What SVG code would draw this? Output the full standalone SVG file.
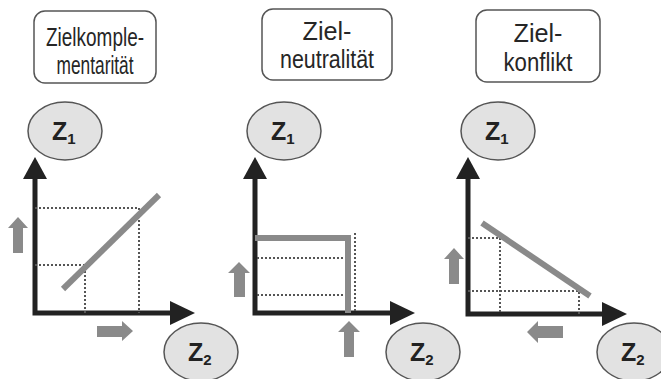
<svg xmlns="http://www.w3.org/2000/svg" width="661" height="379" viewBox="0 0 661 379">
  <style>
    .box { fill: #fff; stroke: #555; stroke-width: 1.5; }
    .title { font-family: "Liberation Sans", Arial, sans-serif; font-size: 25px; fill: #262626; text-anchor: middle; }
    .bubble { fill: #e2e2e2; stroke: #555; stroke-width: 1.5; }
    .zlabel { font-family: "Liberation Sans", Arial, sans-serif; font-weight: bold; font-size: 25px; fill: #222; }
    .zsub { font-size: 15px; }
    .axis { stroke: #222; stroke-width: 5; fill: none; }
    .curve { stroke: #8a8a8a; stroke-width: 6; fill: none; }
    .guide { stroke: #555; stroke-width: 2; stroke-dasharray: 2 2; fill: none; }
    .hint { fill: #8a8a8a; }
    .head { fill: #222; }
  </style>

  <!-- headings (condensed lines) -->
  <g id="heading-complementarity">
    <rect class="box" x="34" y="11" width="122" height="72" rx="11"/>
    <text class="title" x="95" y="46" textLength="98" lengthAdjust="spacingAndGlyphs">Zielkomple-</text>
    <text class="title" x="95" y="74" textLength="77" lengthAdjust="spacingAndGlyphs">mentarität</text>
  </g>
  <g id="heading-neutrality">
    <rect class="box" x="262" y="9" width="130" height="71" rx="11"/>
    <text class="title" x="327" y="40" textLength="49" lengthAdjust="spacingAndGlyphs">Ziel-</text>
    <text class="title" x="327" y="68" textLength="94" lengthAdjust="spacingAndGlyphs">neutralität</text>
  </g>
  <g id="heading-conflict">
    <rect class="box" x="476" y="10" width="124" height="72" rx="11"/>
    <text class="title" x="538" y="42" textLength="49" lengthAdjust="spacingAndGlyphs">Ziel-</text>
    <text class="title" x="538" y="71" textLength="69" lengthAdjust="spacingAndGlyphs">konflikt</text>
  </g>

  <!-- goal bubbles -->
  <g id="z1-a"><ellipse class="bubble" cx="65" cy="131" rx="37" ry="29"/><text class="zlabel" x="52" y="140">Z<tspan class="zsub" dy="4">1</tspan></text></g>
  <g id="z2-a"><ellipse class="bubble" cx="201" cy="352" rx="37" ry="29"/><text class="zlabel" x="188" y="361">Z<tspan class="zsub" dy="4">2</tspan></text></g>
  <g id="z1-b"><ellipse class="bubble" cx="284" cy="131" rx="37" ry="29"/><text class="zlabel" x="271" y="140">Z<tspan class="zsub" dy="4">1</tspan></text></g>
  <g id="z2-b"><ellipse class="bubble" cx="423" cy="352" rx="37" ry="29"/><text class="zlabel" x="410" y="361">Z<tspan class="zsub" dy="4">2</tspan></text></g>
  <g id="z1-c"><ellipse class="bubble" cx="498" cy="131" rx="37" ry="29"/><text class="zlabel" x="485" y="140">Z<tspan class="zsub" dy="4">1</tspan></text></g>
  <g id="z2-c"><ellipse class="bubble" cx="634" cy="352" rx="37" ry="29"/><text class="zlabel" x="621" y="361">Z<tspan class="zsub" dy="4">2</tspan></text></g>

  <g id="connectors">
    <!-- chart 1: complementarity -->
    <polyline class="axis" points="35,175 35,313 172,313"/>
    <polygon class="head" points="35,157 23,179 47,179"/>
    <polygon class="head" points="195,313 170,301 170,325"/>
    <polyline class="guide" points="35,208 139,208 139,313"/>
    <polyline class="guide" points="35,265 85,265 85,313"/>
    <line class="curve" x1="63" y1="289" x2="159" y2="195"/>
    <polygon class="hint" points="18,217 28,228 23,228 23,253 13,253 13,228 8,228"/>
    <polygon class="hint" points="133,331 122,321 122,326 97,326 97,337 122,337 122,341"/>

    <!-- chart 2: neutrality -->
    <polyline class="axis" points="255,175 255,313 392,313"/>
    <polygon class="head" points="255,157 243,179 267,179"/>
    <polygon class="head" points="415,313 390,301 390,325"/>
    <polyline class="guide" points="355,233 355,313"/>
    <line class="guide" x1="257" y1="258" x2="344" y2="258"/>
    <line class="guide" x1="257" y1="295" x2="344" y2="295"/>
    <polyline class="curve" points="255,238 348,238 348,313"/>
    <polygon class="hint" points="239,262 250,273 245,273 245,297 234,297 234,273 228,273"/>
    <polygon class="hint" points="349,321 360,332 354,332 354,357 344,357 344,332 338,332"/>

    <!-- chart 3: conflict -->
    <polyline class="axis" points="468,175 468,314 605,314"/>
    <polygon class="head" points="468,157 456,179 480,179"/>
    <polygon class="head" points="627,314 602,302 602,326"/>
    <polyline class="guide" points="468,238 500,238 500,314"/>
    <polyline class="guide" points="468,291 579,291 579,314"/>
    <line class="curve" x1="482" y1="223" x2="590" y2="296"/>
    <polygon class="hint" points="454,248 464,259 459,259 459,284 449,284 449,259 444,259"/>
    <polygon class="hint" points="527,332 538,321 538,326 563,326 563,338 538,338 538,343"/>
  </g>
</svg>
